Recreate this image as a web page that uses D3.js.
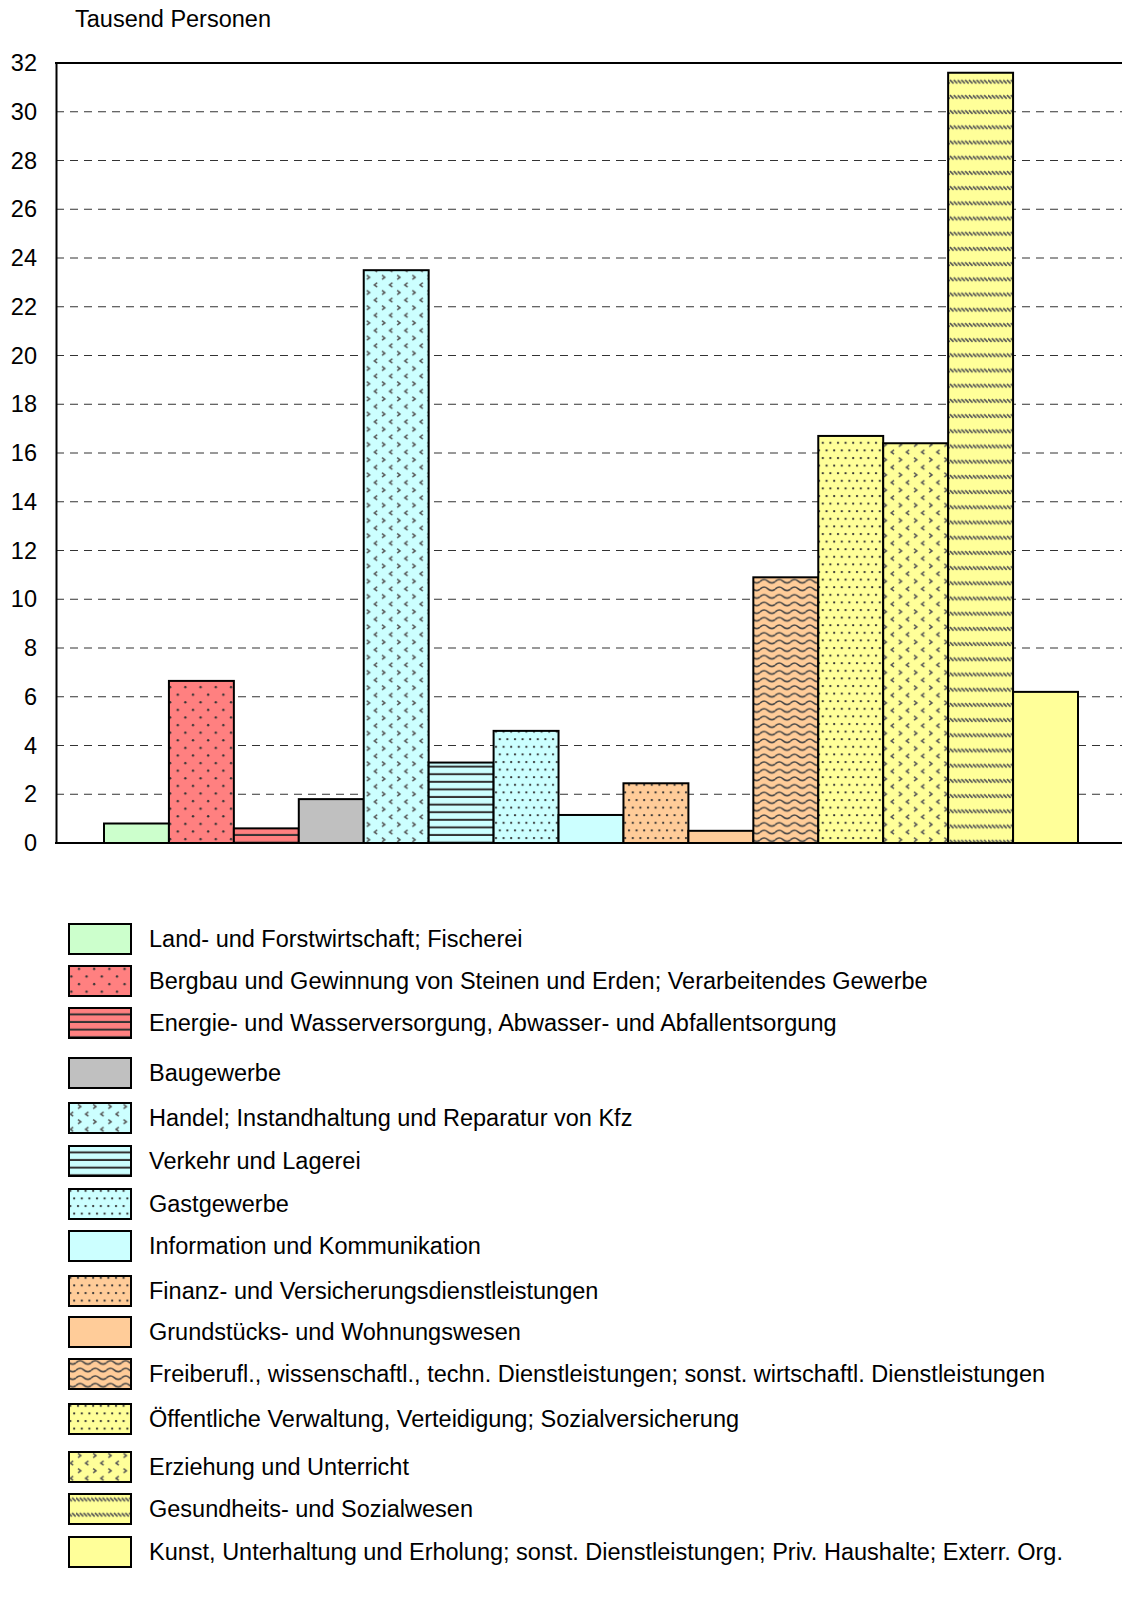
<!DOCTYPE html>
<html><head><meta charset="utf-8">
<script src="https://cdn.jsdelivr.net/npm/d3@7"></script>
<style>body{margin:0;background:#fff}svg{display:block}text{font-family:"Liberation Sans",Arial,sans-serif;fill:#000}</style>
</head><body>
<svg id="c" width="1146" height="1601"></svg>
<script>
const categories = [
 "Land- und Forstwirtschaft; Fischerei",
 "Bergbau und Gewinnung von Steinen und Erden; Verarbeitendes Gewerbe",
 "Energie- und Wasserversorgung, Abwasser- und Abfallentsorgung",
 "Baugewerbe",
 "Handel; Instandhaltung und Reparatur von Kfz",
 "Verkehr und Lagerei",
 "Gastgewerbe",
 "Information und Kommunikation",
 "Finanz- und Versicherungsdienstleistungen",
 "Grundstücks- und Wohnungswesen",
 "Freiberufl., wissenschaftl., techn. Dienstleistungen; sonst. wirtschaftl. Dienstleistungen",
 "Öffentliche Verwaltung, Verteidigung; Sozialversicherung",
 "Erziehung und Unterricht",
 "Gesundheits- und Sozialwesen",
 "Kunst, Unterhaltung und Erholung; sonst. Dienstleistungen; Priv. Haushalte; Exterr. Org."
];
const values = [0.8, 6.65, 0.6, 1.8, 23.5, 3.3, 4.6, 1.15, 2.45, 0.5, 10.9, 16.7, 16.4, 31.6, 6.2];
const fills = ["#ccffcc","#ff8080","#ff8080","#c0c0c0","#ccffff","#ccffff","#ccffff","#ccffff","#ffcc99","#ffcc99","#ffcc99","#ffff99","#ffff99","#ffff99","#ffff99"];
const patterns = ["none","dots5","hlines","none","chevron","hlines","dots10","none","dots10","none","wave","dots10","chevron","diag","none"];
const yTicks = [0,2,4,6,8,10,12,14,16,18,20,22,24,26,28,30,32];
const yTitle = "Tausend Personen";
const legendY = [939,981,1023,1073,1118,1161,1204,1246,1291,1332,1374,1419,1467,1509,1552];

const FS = 23.5;
const svg = d3.select("#c");
const defs = svg.append("defs");
const T = 15.2, pc = "#333";
function mkPattern(id, color, type){
  const p = defs.append("pattern").attr("id", id).attr("patternUnits","userSpaceOnUse")
    .attr("width", T).attr("height", type==="hlines"||type==="wave" ? T/2 : T);
  p.append("rect").attr("width", T).attr("height", T).attr("fill", color);
  if(type==="dots5"){
    [[3,3],[3+T/2,3+T/2]].forEach(([x,y])=>p.append("circle").attr("cx",x).attr("cy",y).attr("r",1.2).attr("fill",pc));
  } else if(type==="dots10"){
    [[2,2],[2+T/2,2],[2+T/4,2+T/2],[2+3*T/4,2+T/2]].forEach(([x,y])=>p.append("circle").attr("cx",x).attr("cy",y).attr("r",1.15).attr("fill",pc));
  } else if(type==="hlines"){
    p.append("rect").attr("x",0).attr("y",T/2-2).attr("width",T).attr("height",2).attr("fill",pc);
  } else if(type==="chevron"){
    const g = (x,y,dir)=>p.append("path").attr("d", dir>0 ? `M${x},${y} l2.8,2.2 l-2.8,2.2` : `M${x+2.8},${y} l-2.8,2.2 l2.8,2.2`)
      .attr("fill","none").attr("stroke","#555").attr("stroke-width",1.5);
    g(2,1.5,1); g(2+T/2,1.5+T/2,-1);
  } else if(type==="wave"){
    p.append("path").attr("d",`M0,4 Q${T/4},0 ${T/2},3.5 T${T},4`).attr("fill","none").attr("stroke","#444").attr("stroke-width",1.5);
  } else if(type==="diag"){
    for(let i=0;i<4;i++){
      const x = i*T/4;
      p.append("path").attr("d",`M${x},4 l3.5,3.5`).attr("stroke","#555").attr("stroke-width",1.6);
    }
  }
  return `url(#${id})`;
}
const fillUrl = categories.map((c,i)=> patterns[i]==="none" ? fills[i] : mkPattern("p"+i, fills[i], patterns[i]));

const plotL = 56, plotR = 1122, plotT = 63, plotB = 843;
const y = d3.scaleLinear().domain([0,32]).range([plotB, plotT]);
const x = d3.scaleBand().domain(categories).range([104, 1078]).paddingInner(0);

// gridlines
svg.append("g").selectAll("line").data(yTicks.filter(t=>t>0 && t<32)).join("line")
  .attr("x1", plotL).attr("x2", plotR).attr("y1", d=>y(d)).attr("y2", d=>y(d))
  .attr("stroke","#333").attr("stroke-width",1).attr("stroke-dasharray","8,6");

// bars
svg.append("g").selectAll("rect").data(values).join("rect")
  .attr("x",(d,i)=>x(categories[i])).attr("width",x.bandwidth())
  .attr("y",d=>y(d)).attr("height",d=>y(0)-y(d))
  .attr("fill",(d,i)=>fillUrl[i]).attr("stroke","#000").attr("stroke-width",2);

// axis
const ax = svg.append("g").attr("transform",`translate(${plotL},0)`).call(d3.axisLeft(y).tickValues(yTicks).tickSize(0).tickPadding(19));
ax.select(".domain").attr("stroke","#000").attr("stroke-width",2);
ax.selectAll("text").attr("font-size",FS).attr("font-family","Liberation Sans, Arial, sans-serif").attr("fill","#000");
svg.append("line").attr("x1",plotL-1).attr("x2",plotR).attr("y1",plotT).attr("y2",plotT).attr("stroke","#000").attr("stroke-width",2);
svg.append("line").attr("x1",plotL-1).attr("x2",plotR).attr("y1",plotB).attr("y2",plotB).attr("stroke","#000").attr("stroke-width",2);

svg.append("text").attr("x",75).attr("y",27).attr("font-size",FS).text(yTitle);

// legend
const lg = svg.append("g").selectAll("g").data(categories).join("g")
  .attr("transform",(d,i)=>`translate(0,${legendY[i]})`);
lg.append("rect").attr("x",69).attr("y",-15).attr("width",62).attr("height",30)
  .attr("fill",(d,i)=>fillUrl[i]).attr("stroke","#000").attr("stroke-width",2);
lg.append("text").attr("x",149).attr("y",0).attr("dy","0.35em").attr("font-size",FS).text(d=>d);
</script>
</body></html>
